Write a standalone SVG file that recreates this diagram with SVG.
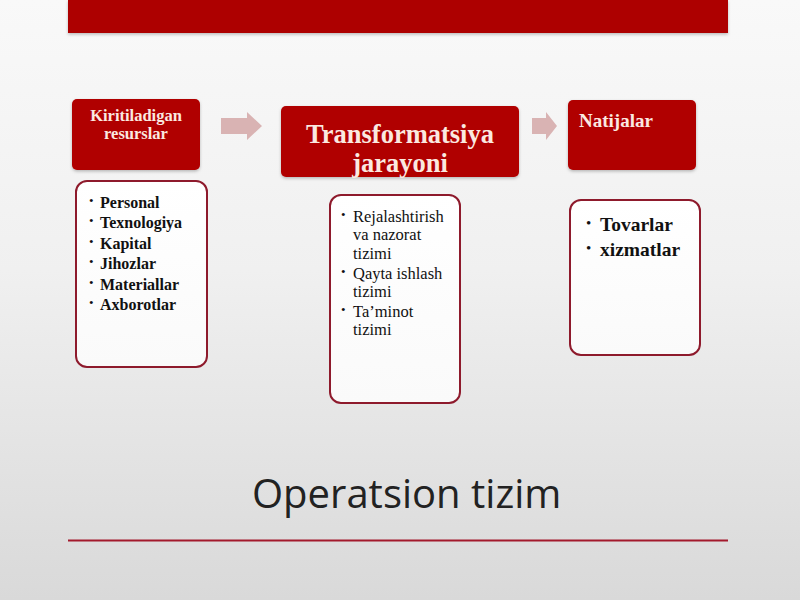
<svg xmlns="http://www.w3.org/2000/svg" width="800" height="600" viewBox="0 0 800 600">
<defs>
<linearGradient id="bg" x1="0" y1="0" x2="0" y2="1">
<stop offset="0" stop-color="#f9f9f9"/>
<stop offset="0.45" stop-color="#f0f0f0"/>
<stop offset="1" stop-color="#d9d9d9"/>
</linearGradient>
<linearGradient id="bodyg" x1="0" y1="0" x2="0" y2="1">
<stop offset="0" stop-color="#ffffff"/>
<stop offset="1" stop-color="#fafafa"/>
</linearGradient>
<filter id="sh" x="-10%" y="-10%" width="120%" height="130%">
<feDropShadow dx="0" dy="1.5" stdDeviation="1.5" flood-color="#000" flood-opacity="0.25"/>
</filter>
</defs>
<style>
.hdr{fill:#b00000;filter:url(#sh)}
.body{fill:url(#bodyg);stroke:#8e1a2c;stroke-width:2}
.arr{fill:#d9b3b3}
.ht{font-family:"Liberation Serif",serif;font-weight:bold;fill:#fbe9e0}
.bt{font-family:"Liberation Serif",serif;fill:#111}
.bb{font-weight:bold}
.dot{font-family:"Liberation Serif",serif;fill:#111;font-size:13px}
.title{font-family:"Open Sans",sans-serif;font-size:40px;fill:#222}
</style>
<rect x="0" y="0" width="800" height="600" fill="url(#bg)"/>
<rect x="68" y="0" width="660" height="33" fill="#ad0000" filter="url(#sh)"/>

<g id="connectors">
<polygon class="arr" points="221,118 247,118 247,112 262,126 247,140 247,134 221,134"/>
<polygon class="arr" points="532,118 546,118 546,112 557,126 546,140 546,134 532,134"/>
</g>

<g id="node-inputs">
<rect class="hdr" x="72" y="99" width="128" height="71" rx="5"/>
<text class="ht" font-size="16.5" text-anchor="middle" x="136" y="121">Kiritiladigan</text>
<text class="ht" font-size="16.5" text-anchor="middle" x="136" y="139">resurslar</text>
</g>
<g id="node-inputs-list">
<rect class="body" x="76" y="181" width="131" height="186" rx="11"/>
<g class="dot">
<text x="89" y="205">•</text>
<text x="89" y="225">•</text>
<text x="89" y="246">•</text>
<text x="89" y="266">•</text>
<text x="89" y="287">•</text>
<text x="89" y="307">•</text>
</g>
<g class="bt bb" font-size="16">
<text x="100" y="208">Personal</text>
<text x="100" y="228">Texnologiya</text>
<text x="100" y="249">Kapital</text>
<text x="100" y="269">Jihozlar</text>
<text x="100" y="290">Materiallar</text>
<text x="100" y="310">Axborotlar</text>
</g>
</g>

<g id="node-transform">
<rect class="hdr" x="281" y="106" width="238" height="71" rx="5"/>
<text class="ht" font-size="26.5" text-anchor="middle" x="400" y="143">Transformatsiya</text>
<text class="ht" font-size="26.5" text-anchor="middle" x="400" y="172">jarayoni</text>
</g>
<g id="node-transform-list">
<rect class="body" x="330" y="195" width="130" height="208" rx="11"/>
<g class="dot">
<text x="341" y="219">•</text>
<text x="341" y="276">•</text>
<text x="341" y="314">•</text>
</g>
<g class="bt" font-size="16.5">
<text x="353" y="222">Rejalashtirish</text>
<text x="353" y="240">va nazorat</text>
<text x="353" y="259">tizimi</text>
<text x="353" y="279">Qayta ishlash</text>
<text x="353" y="297">tizimi</text>
<text x="353" y="317">Ta’minot</text>
<text x="353" y="335">tizimi</text>
</g>
</g>

<g id="node-results">
<rect class="hdr" x="568" y="100" width="128" height="70" rx="5"/>
<text class="ht" font-size="19" x="579" y="127">Natijalar</text>
</g>
<g id="node-results-list">
<rect class="body" x="570" y="200" width="130" height="155" rx="11"/>
<g class="dot" style="font-size:15px">
<text x="586" y="228">•</text>
<text x="586" y="253">•</text>
</g>
<g class="bt bb" font-size="19.5">
<text x="600" y="231">Tovarlar</text>
<text x="600" y="256">xizmatlar</text>
</g>
</g>

<text class="title" x="252" y="508">Operatsion tizim</text>
<line x1="68" y1="540.5" x2="728" y2="540.5" stroke="#a3192c" stroke-width="2"/>
</svg>
